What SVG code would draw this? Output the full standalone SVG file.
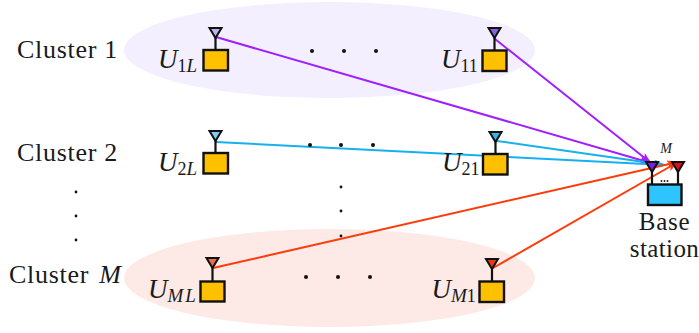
<svg xmlns="http://www.w3.org/2000/svg" width="699" height="333" viewBox="0 0 699 333">
<style>
text{font-family:"Liberation Serif","Times New Roman",serif;fill:#1a1a1a}
.lab{font-size:26px;letter-spacing:.7px}
.u{font-size:27px;font-style:italic}
.s{font-size:18px;font-style:normal}
.si{font-size:19px;font-style:italic}
.box{fill:#ffc000;stroke:#111;stroke-width:2.4}
.stem{stroke:#111;stroke-width:2.2;fill:none}
.ant{stroke:#111;stroke-width:2;stroke-linejoin:miter}
.c{fill:none;stroke-width:2}
.d{fill:#111}
</style>
<defs>
<marker id="ap" markerUnits="userSpaceOnUse" markerWidth="12" markerHeight="10" refX="11" refY="4" orient="auto"><path d="M0 0L11 4L0 8L2.5 4Z" fill="#a01fff"/></marker>
<marker id="ab" markerUnits="userSpaceOnUse" markerWidth="12" markerHeight="10" refX="11" refY="4" orient="auto"><path d="M0 0L11 4L0 8L2.5 4Z" fill="#16b0ee"/></marker>
<marker id="ar" markerUnits="userSpaceOnUse" markerWidth="12" markerHeight="10" refX="11" refY="4" orient="auto"><path d="M0 0L11 4L0 8L2.5 4Z" fill="#ff3b0a"/></marker>
</defs>
<g id="clusters">
<ellipse cx="329.5" cy="50" rx="205.5" ry="48" fill="#f4effe"/>
<ellipse cx="329.5" cy="278" rx="205.5" ry="49" fill="#fde9e5"/>
</g>
<g id="connectors">
<path class="c" stroke="#a01fff" marker-end="url(#ap)" d="M216 37L651 163"/>
<path class="c" stroke="#a01fff" marker-end="url(#ap)" d="M495 39L651 163"/>
<path class="c" stroke="#16b0ee" marker-end="url(#ab)" d="M216 142L665 165"/>
<path class="c" stroke="#16b0ee" marker-end="url(#ab)" d="M497 141L665 165"/>
<path class="c" stroke="#ff3b0a" marker-end="url(#ar)" d="M213 268L678 162"/>
<path class="c" stroke="#ff3b0a" marker-end="url(#ar)" d="M493 268L678 162"/>
</g>
<g id="cluster-1"><text class="lab" x="17" y="58">Cluster 1</text></g>
<g id="cluster-2"><text class="lab" x="17" y="161">Cluster 2</text></g>
<g id="cluster-m"><text class="lab" x="9" y="283">Cluster <tspan font-style="italic" dx="3">M</tspan></text></g>
<g id="u1l">
<path class="stem" d="M215.5 33V50"/><path class="ant" fill="#c4aef0" d="M209.5 28H221.5L215.5 38Z"/><rect class="box" x="203.5" y="50" width="24.5" height="20.5"/>
<text class="u" x="158" y="68">U<tspan class="s" dy="3.5">1</tspan><tspan class="si">L</tspan></text>
</g>
<g id="u11">
<path class="stem" d="M494.5 33V50"/><path class="ant" fill="#8a5fe0" d="M488.5 28H500.5L494.5 38Z"/><rect class="box" x="482.5" y="50.5" width="24" height="20.5"/>
<text class="u" x="441" y="68">U<tspan class="s" dy="3.5">11</tspan></text>
</g>
<g id="u2l">
<path class="stem" d="M215.5 136V153"/><path class="ant" fill="#7fd0ee" d="M209.5 131H221.5L215.5 141Z"/><rect class="box" x="203.5" y="153" width="24.5" height="20.5"/>
<text class="u" x="158" y="171">U<tspan class="s" dy="3.5">2</tspan><tspan class="si">L</tspan></text>
</g>
<g id="u21">
<path class="stem" d="M495.5 137V154"/><path class="ant" fill="#35b5e5" d="M489.5 132H501.5L495.5 142Z"/><rect class="box" x="483" y="154" width="24.5" height="20.5"/>
<text class="u" x="442" y="171">U<tspan class="s" dy="3.5">21</tspan></text>
</g>
<g id="uml">
<path class="stem" d="M212.5 263V281"/><path class="ant" fill="#e8704f" d="M206.5 258H218.5L212.5 268Z"/><rect class="box" x="200.5" y="281.5" width="24" height="20"/>
<text class="u" x="148" y="298">U<tspan class="si" dy="3.5">M</tspan><tspan class="si" dx="2">L</tspan></text>
</g>
<g id="um1">
<path class="stem" d="M492 264V281"/><path class="ant" fill="#e63a12" d="M486 259H498L492 269Z"/><rect class="box" x="479.5" y="281.5" width="24.5" height="20.5"/>
<text class="u" x="431.5" y="298">U<tspan class="si" dy="3.5">M</tspan><tspan class="s">1</tspan></text>
</g>
<g id="base-station">
<path class="stem" d="M652 167V184M678 167V184"/>
<path class="ant" fill="#7a22e0" d="M646 162H658L652 172Z"/><path class="ant" fill="#e0101a" d="M672 162H684L678 172Z"/>
<rect x="648" y="184.5" width="33.5" height="20.5" fill="#2ec4ff" stroke="#111" stroke-width="2.4"/>
<circle class="d" cx="661.5" cy="181" r="0.9"/><circle class="d" cx="664.5" cy="181" r="0.9"/><circle class="d" cx="667.5" cy="181" r="0.9"/>
<text class="si" style="font-size:14px" x="666" y="153" text-anchor="middle">M</text>
<text class="lab" x="664.5" y="230" text-anchor="middle" style="font-size:25px">Base</text>
<text class="lab" x="664.5" y="257" text-anchor="middle" style="font-size:25px;letter-spacing:.4px">station</text>
</g>
<g id="ellipsis">
<circle class="d" cx="312" cy="51" r="2"/><circle class="d" cx="344" cy="51" r="2"/><circle class="d" cx="376" cy="51" r="2"/>
<circle class="d" cx="310" cy="145" r="2"/><circle class="d" cx="341" cy="145" r="2"/><circle class="d" cx="373" cy="145" r="2"/>
<circle class="d" cx="306" cy="277" r="2"/><circle class="d" cx="338" cy="277" r="2"/><circle class="d" cx="370" cy="277" r="2"/>
<circle class="d" cx="341" cy="187" r="1.4"/><circle class="d" cx="341" cy="211" r="1.4"/><circle class="d" cx="341" cy="236" r="1.4"/>
<circle class="d" cx="76" cy="192" r="1.4"/><circle class="d" cx="76" cy="216" r="1.4"/><circle class="d" cx="76" cy="240" r="1.4"/>
</g>
</svg>
